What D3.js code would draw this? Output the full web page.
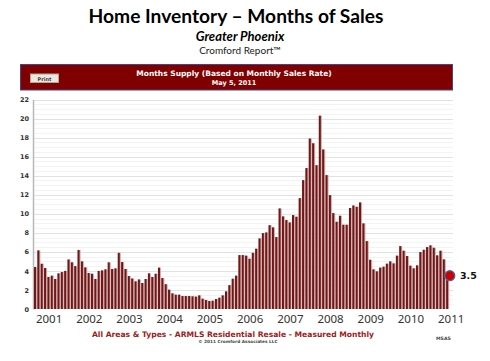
<!DOCTYPE html>
<html>
<head>
<meta charset="utf-8">
<script src="https://cdn.jsdelivr.net/npm/d3@7/dist/d3.min.js"></script>
<style>
  body { margin: 0; background: #fff; }
</style>
</head>
<body>
<svg id="chart" width="490" height="361"></svg>
<script>
// Months supply, one bar per month, Sep 2000 .. Dec 2010
const supply = [
  4.4, 6.15, 4.75, 4.3, 3.36, 3.5, 3.15, 3.74, 3.88, 4.0, 5.2, 4.9,
  4.5, 6.2, 5.0, 4.37, 3.78, 3.7, 3.15, 4.0, 4.05, 4.16, 4.9, 4.2,
  4.27, 5.9, 4.93, 4.2, 3.46, 3.2, 2.9, 3.1, 2.73, 3.15, 3.74, 3.36,
  3.7, 4.34, 3.25, 2.6, 2.03, 1.64, 1.5, 1.5, 1.36, 1.36, 1.36, 1.33,
  1.3, 1.43, 1.08, 0.94, 0.84, 0.87, 1.05, 1.19, 1.43, 1.85, 2.5, 3.18,
  3.5, 5.66, 5.66, 5.6, 5.28, 5.9, 6.33, 7.41, 7.97, 8.04, 8.8, 8.57,
  7.55, 10.56, 9.72, 9.34, 9.09, 9.86, 9.69, 11.64, 13.53, 14.8, 17.9, 17.4,
  15.1, 20.3, 16.75, 14.06, 11.96, 10.07, 9.16, 9.79, 8.85, 8.85, 10.6, 10.87,
  10.73, 11.19, 8.99, 7.13, 5.17, 4.16, 3.95, 4.34, 4.44, 4.76, 5.0, 4.79,
  5.6, 6.6, 6.12, 5.56, 4.55, 4.27, 4.58, 5.98, 6.22, 6.5, 6.68, 6.43,
  5.63, 6.12, 5.21, 3.5
];
const firstYear = 2000, firstMonth = 8;   // Sep 2000 (0-based month)
const yearLabels = ["2001", "2002", "2003", "2004", "2005", "2006", "2007", "2008", "2009", "2010", "2011"];
const yTicks = [0, 2, 4, 6, 8, 10, 12, 14, 16, 18, 20, 22];
const latest = 3.5;

const months = supply.map((v, i) => {
  const d = new Date(firstYear, firstMonth + i, 1);
  return d.getFullYear() + "-" + String(d.getMonth() + 1).padStart(2, "0");
});

const svg = d3.select("#chart");

// titles
svg.append("text").attr("x", 236).attr("y", 23).attr("text-anchor", "middle")
  .style("font-family", "Lato").style("font-weight", "bold").style("font-size", "19.2px")
  .attr("fill", "#000").text("Home Inventory \u2013 Months of Sales");
svg.append("text").attr("x", 240).attr("y", 41).attr("text-anchor", "middle")
  .style("font-family", "Lato").style("font-weight", "bold").style("font-style", "italic").style("font-size", "13px")
  .attr("fill", "#000").text("Greater  Phoenix");
svg.append("text").attr("x", 240).attr("y", 54).attr("text-anchor", "middle")
  .style("font-family", "Lato").style("font-size", "10px")
  .attr("fill", "#222").text("Cromford Report\u2122");

// header bar
svg.append("rect").attr("x", 20.5).attr("y", 64.5).attr("width", 432).attr("height", 25.5)
  .attr("fill", "#800000").attr("stroke", "#45458a").attr("stroke-width", 1);
svg.append("rect").attr("x", 30.5).attr("y", 74).attr("width", 28).attr("height", 8.5)
  .attr("fill", "#ece8e0").attr("stroke", "#b0a898").attr("stroke-width", 1);
svg.append("text").attr("x", 44.5).attr("y", 80.5).attr("text-anchor", "middle")
  .style("font-family", "DejaVu Sans").style("font-weight", "bold").style("font-size", "5px")
  .attr("fill", "#444").text("Print");
svg.append("text").attr("x", 234).attr("y", 75.5).attr("text-anchor", "middle")
  .style("font-family", "DejaVu Sans").style("font-weight", "bold").style("font-size", "7.5px")
  .attr("fill", "#fff").text("Months Supply (Based on Monthly Sales Rate)");
svg.append("text").attr("x", 234).attr("y", 84.5).attr("text-anchor", "middle")
  .style("font-family", "DejaVu Sans").style("font-weight", "bold").style("font-size", "6.5px")
  .attr("fill", "#fff").text("May 5, 2011");

// scales
const plotLeft = 33, plotRight = 453;
const y = d3.scaleLinear().domain([0, 22]).range([309, 99.5]);
const x = d3.scaleBand().domain(months).range([34, 449.5]).paddingInner(0);

// gridlines
const minor = d3.range(0, 22.01, 0.5).filter(v => v % 2 !== 0);
svg.append("g").selectAll("line").data(minor).join("line")
  .attr("x1", plotLeft).attr("x2", plotRight)
  .attr("y1", d => Math.round(y(d)) + 0.5).attr("y2", d => Math.round(y(d)) + 0.5)
  .attr("stroke", "#f3f3f3");
svg.append("g").selectAll("line").data(yTicks.slice(1)).join("line")
  .attr("x1", plotLeft).attr("x2", plotRight)
  .attr("y1", d => Math.round(y(d)) + 0.5).attr("y2", d => Math.round(y(d)) + 0.5)
  .attr("stroke", "#e2e2e2");

// y axis
const yAxis = svg.append("g").attr("transform", `translate(${plotLeft},0)`)
  .call(d3.axisLeft(y).tickValues(yTicks).tickSize(0).tickPadding(4));
yAxis.select(".domain").attr("stroke", "#b8b8b8").attr("stroke-width", 1.5);
yAxis.selectAll(".tick text")
  .style("font-family", "DejaVu Sans").style("font-weight", "bold").style("font-size", "6.5px")
  .attr("fill", "#333");

// bars: light edge behind, dark body in front
const step = x.step();
const bars = svg.append("g");
bars.selectAll("rect.edge").data(supply).join("rect").attr("class", "edge")
  .attr("x", (d, i) => x(months[i]))
  .attr("y", d => y(d))
  .attr("width", step * 0.92)
  .attr("height", d => y(0) - y(d))
  .attr("fill", "#d4b0b0");
bars.selectAll("rect.body").data(supply).join("rect").attr("class", "body")
  .attr("x", (d, i) => x(months[i]))
  .attr("y", d => y(d))
  .attr("width", step * 0.6)
  .attr("height", d => y(0) - y(d))
  .attr("fill", "#701818");

// year labels at each January
svg.append("g").selectAll("text").data(yearLabels).join("text")
  .attr("x", d => x.range()[0] + ((+d - firstYear) * 12 - firstMonth) * step + step / 2)
  .attr("y", 323)
  .attr("text-anchor", "middle")
  .style("font-family", "Noto Sans").style("font-size", "11.5px")
  .attr("fill", "#333").text(d => d);

// latest value marker
const lastX = x(months[months.length - 1]) + step / 2;
svg.append("circle").attr("cx", lastX + 2).attr("cy", y(latest)).attr("r", 5)
  .attr("fill", "#cc0000").attr("stroke", "#4a6aa8").attr("stroke-width", 1.2);
svg.append("text").attr("x", 460).attr("y", y(latest) + 3.5)
  .style("font-family", "DejaVu Sans").style("font-weight", "bold").style("font-size", "9.5px")
  .attr("fill", "#111").text(latest);

// footer
svg.append("text").attr("x", 233).attr("y", 337).attr("text-anchor", "middle")
  .style("font-family", "DejaVu Sans").style("font-weight", "bold").style("font-size", "7.6px")
  .attr("fill", "#9b1b1b").text("All Areas & Types - ARMLS Residential Resale - Measured Monthly");
svg.append("text").attr("x", 238).attr("y", 343).attr("text-anchor", "middle")
  .style("font-family", "DejaVu Sans").style("font-weight", "bold").style("font-size", "4.3px")
  .attr("fill", "#444").text("\u00a9 2011 Cromford Associates LLC");
svg.append("text").attr("x", 436).attr("y", 340)
  .style("font-family", "DejaVu Sans").style("font-weight", "bold").style("font-size", "4.6px")
  .attr("fill", "#444").text("MSAS");
</script>
</body>
</html>
